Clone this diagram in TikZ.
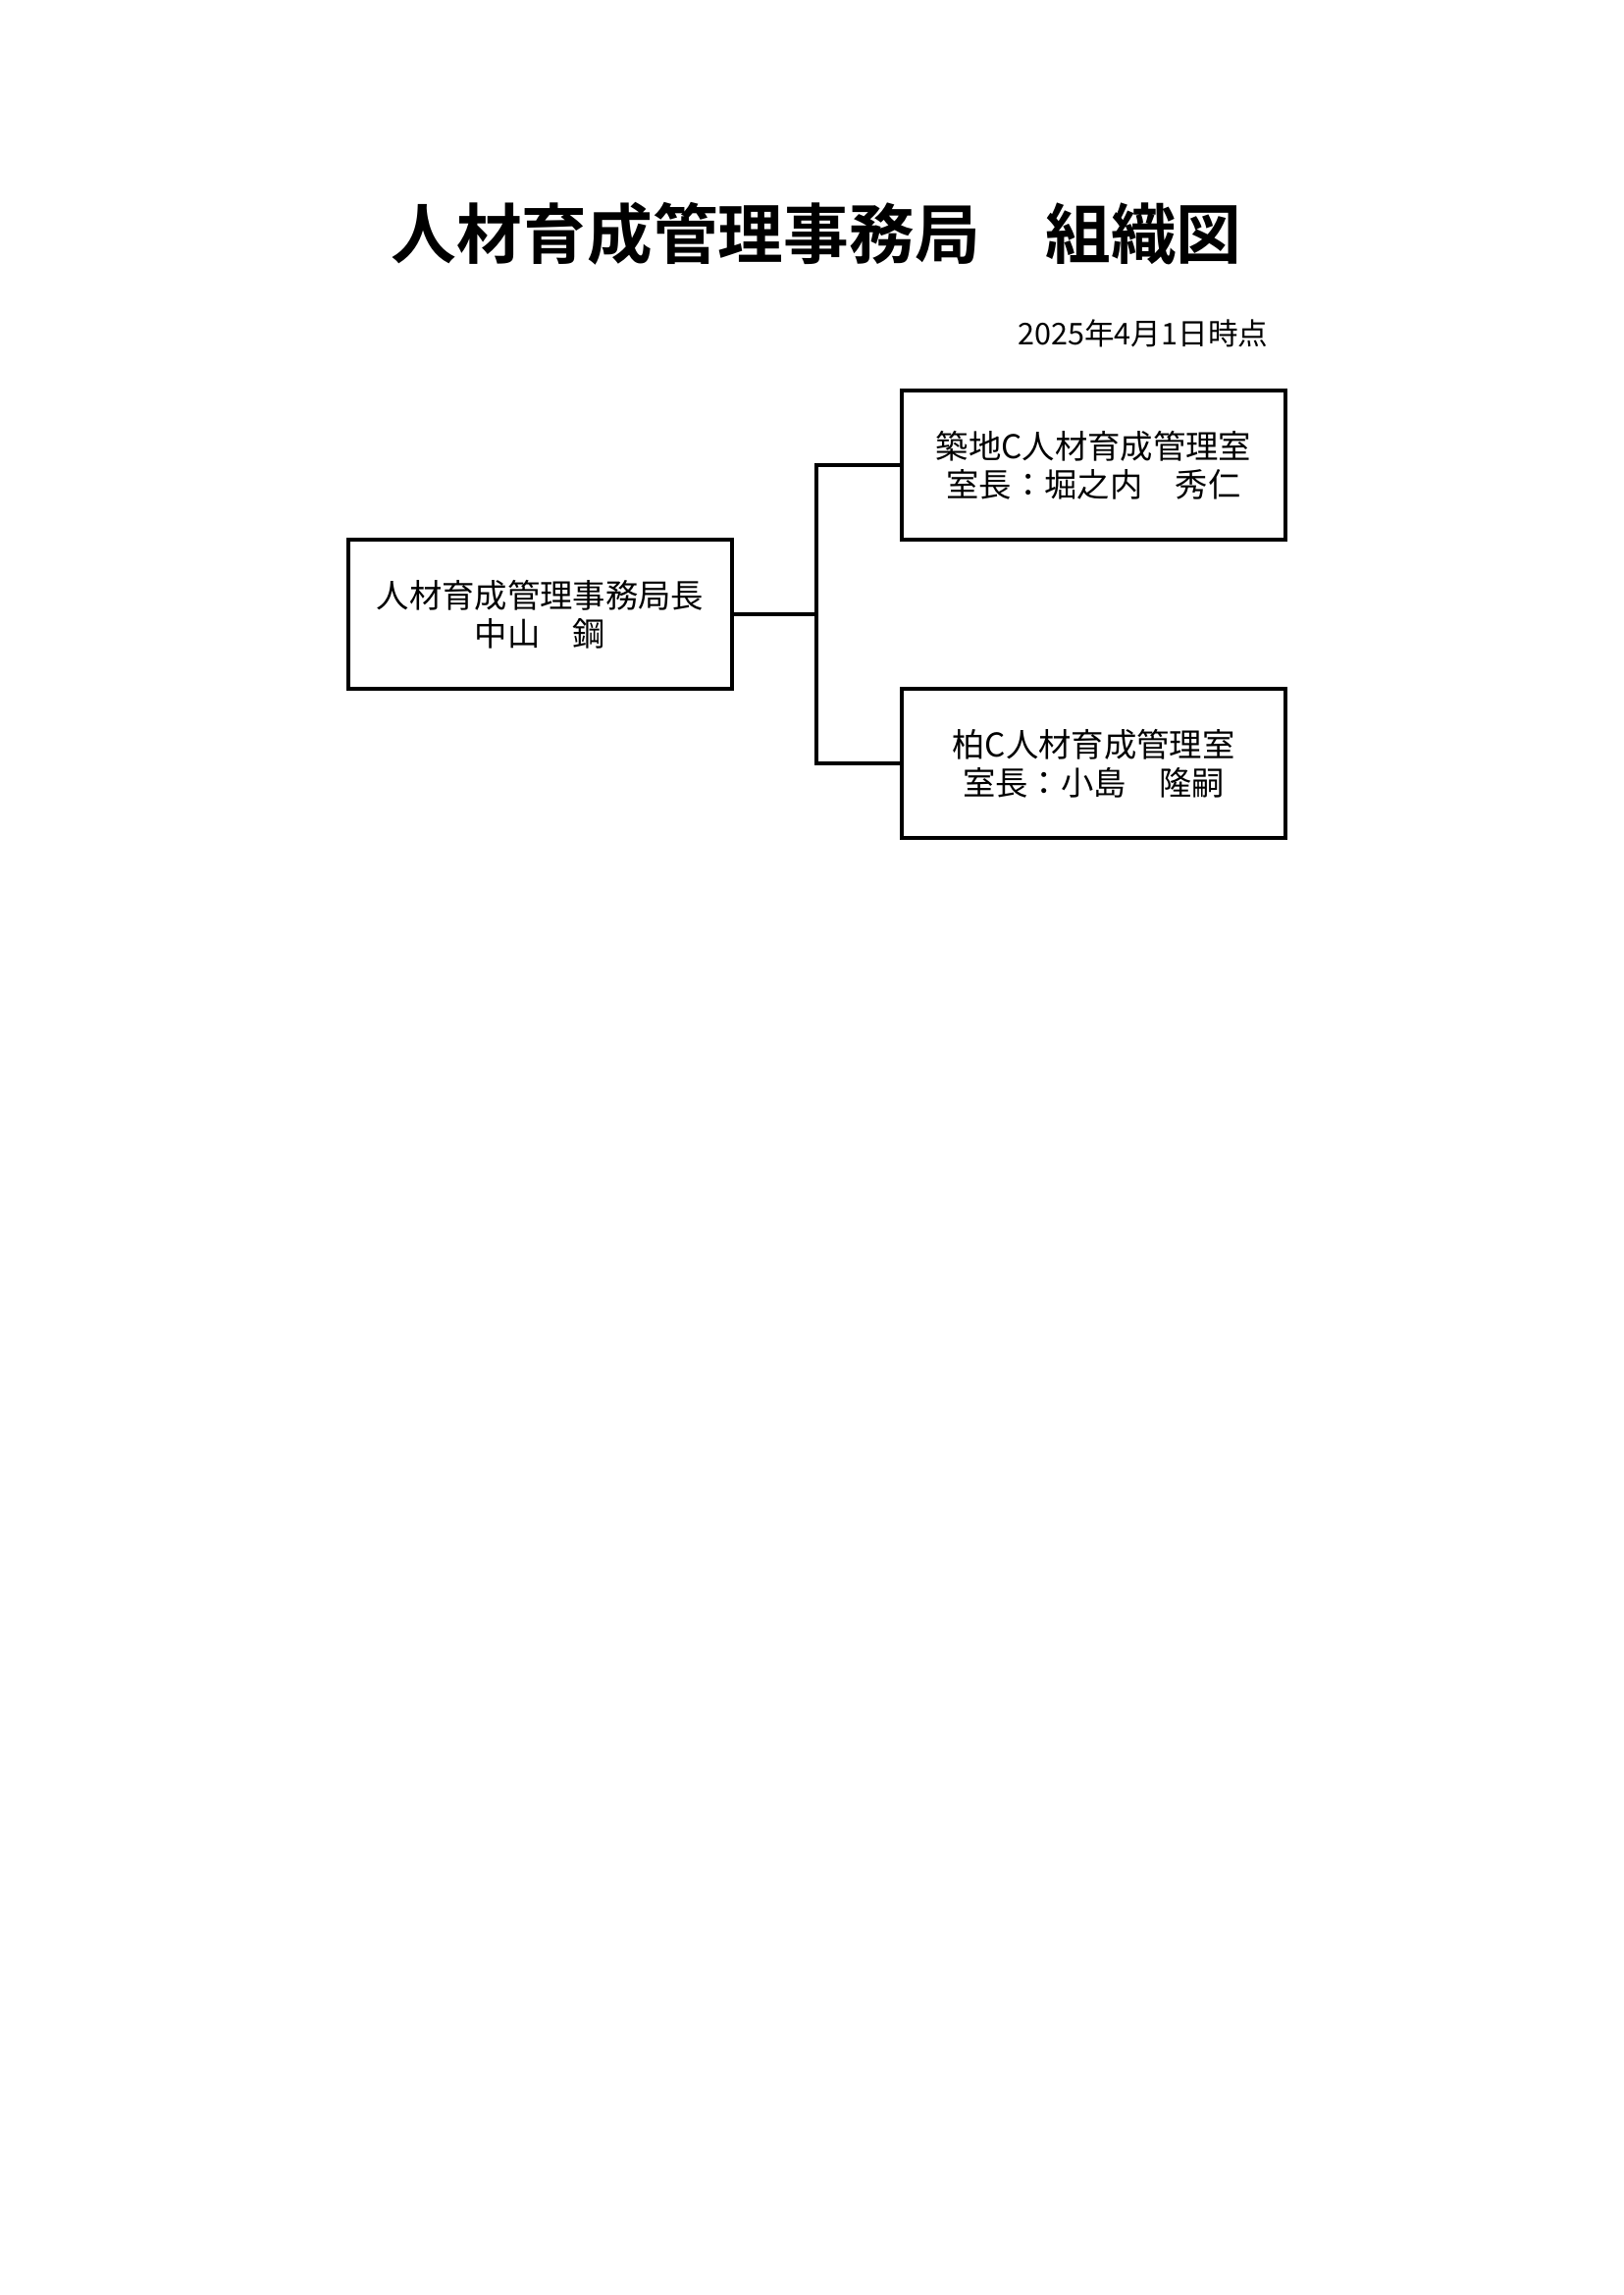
\documentclass[tikz,border=0pt]{standalone}
\usepackage{fontspec}
\setmainfont{Noto Sans CJK JP}
\newfontfamily\jpb{Noto Sans CJK JP Bold}
\begin{document}
\begin{tikzpicture}[x=0.3598pt,y=-0.3598pt,
  box/.style={draw,line width=1.1pt,minimum width=391*0.3598pt,minimum height=152*0.3598pt,align=center,inner sep=0pt,font=\fontsize{12}{14}\selectfont},
  conn/.style={line width=1.1pt}]
\useasboundingbox (0,0) rectangle (1654,2339);
\node (title) at (832,238) {\jpb\fontsize{24}{28}\selectfont 人材育成管理事務局　組織図};
\node[anchor=east] (date) at (1302,340) {\fontsize{11}{13}\selectfont 2025年4月1日時点};
\node[box] (head) at (550.5,626) {人材育成管理事務局長\\中山　鋼};
\node[box] (tsuk) at (1114.5,474) {築地C人材育成管理室\\室長：堀之内　秀仁};
\node[box] (kash) at (1114.5,778) {柏C人材育成管理室\\室長：小島　隆嗣};
\coordinate (br) at (832,626);
\draw[conn] (head.east) -- (br);
\draw[conn] (tsuk.west) -| (br) |- (kash.west);
\end{tikzpicture}
\end{document}
